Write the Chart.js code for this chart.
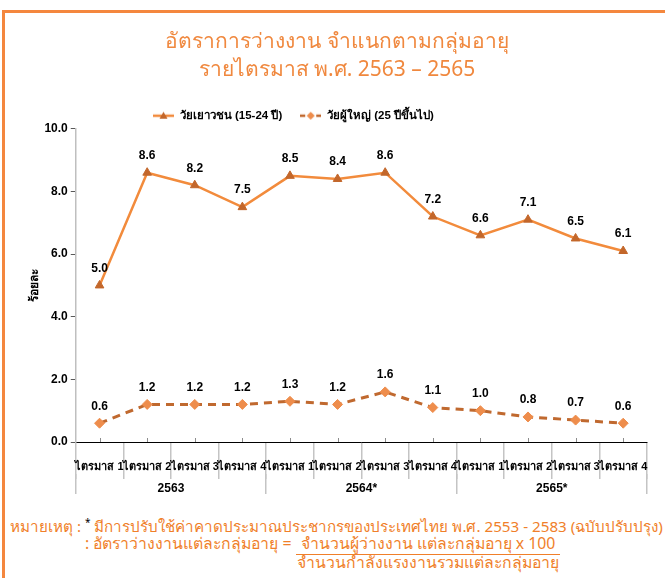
<!DOCTYPE html>
<html lang="th">
<head>
<meta charset="UTF-8">
<title>อัตราการว่างงาน จำแนกตามกลุ่มอายุ</title>
<script src="https://cdn.jsdelivr.net/npm/chart.js"></script>
<style>
    body {
        margin: 0;
        width: 665px;
        height: 578px;
        overflow: hidden;
        position: relative;
        background: #fff;
        font-family: Tahoma, "Noto Sans", sans-serif;
    }
    .frame {
        position: absolute;
        left: 2px;
        top: 10px;
        width: 700px;
        height: 600px;
        border-top: 3px solid #F4873E;
        border-left: 3px solid #F4873E;
    }
    #wrap {
        position: absolute;
        left: 5px;
        top: 13px;
        width: 660px;
        height: 490px;
    }
    .note {
        position: absolute;
        color: #F07F2A;
        font-size: 15.2px;
        white-space: nowrap;
        line-height: 19px;
    }
    .note sup { color: #000; font-size: 10px; }
    .frac {
        display: inline-block;
        vertical-align: top;
        text-align: center;
    }
    .frac .num { border-bottom: 1.5px solid #F07F2A; padding: 0 5px; }
</style>
</head>
<body>
<div class="frame"></div>
<div id="wrap"><canvas id="chart" width="660" height="490"></canvas></div>

<div class="note" style="left:10px; top:513px;">หมายเหตุ : <sup>*</sup> มีการปรับใช้ค่าคาดประมาณประชากรของประเทศไทย พ.ศ. 2553 - 2583 (ฉบับปรับปรุง)</div>
<div class="note" style="left:85px; top:534px; font-size:15.8px;">: อัตราว่างงานแต่ละกลุ่มอายุ = <span class="frac"><span class="num">จำนวนผู้ว่างงาน แต่ละกลุ่มอายุ x 100</span><br>จำนวนกำลังแรงงานรวมแต่ละกลุ่มอายุ</span></div>

<script>
    // ข้อมูล
    const quarters = ['ไตรมาส 1', 'ไตรมาส 2', 'ไตรมาส 3', 'ไตรมาส 4',
                      'ไตรมาส 1', 'ไตรมาส 2', 'ไตรมาส 3', 'ไตรมาส 4',
                      'ไตรมาส 1', 'ไตรมาส 2', 'ไตรมาส 3', 'ไตรมาส 4'];
    const years = ['2563', '2564*', '2565*'];
    const youth = [5.0, 8.6, 8.2, 7.5, 8.5, 8.4, 8.6, 7.2, 6.6, 7.1, 6.5, 6.1];
    const adult = [0.6, 1.2, 1.2, 1.2, 1.3, 1.2, 1.6, 1.1, 1.0, 0.8, 0.7, 0.6];
    const seriesNames = ['วัยเยาวชน (15-24 ปี)', 'วัยผู้ใหญ่ (25 ปีขึ้นไป)'];

    const boldFont = '"Liberation Sans Narrow", "Arial Narrow", Tahoma, sans-serif';

    // ไอคอนในคำอธิบาย: เส้น + เครื่องหมาย
    function legendIcon(lineColor, markColor, shape, dash) {
        const c = document.createElement('canvas');
        c.width = 21;
        c.height = 12;
        const g = c.getContext('2d');
        g.strokeStyle = lineColor;
        g.lineWidth = 2.5;
        g.setLineDash(dash);
        g.beginPath();
        g.moveTo(0, 6);
        g.lineTo(21, 6);
        g.stroke();
        g.fillStyle = markColor;
        g.beginPath();
        if (shape === 'triangle') {
            g.moveTo(10.5, 2); g.lineTo(14.5, 9); g.lineTo(6.5, 9);
        } else {
            g.moveTo(10.5, 2); g.lineTo(14.5, 6); g.lineTo(10.5, 10); g.lineTo(6.5, 6);
        }
        g.closePath();
        g.fill();
        return c;
    }

    const icons = [
        legendIcon('#F28B3C', '#C3672B', 'triangle', []),
        legendIcon('#C0692F', '#EE8D4C', 'diamond', [5, 3])
    ];

    // ตัวเลขเหนือจุด
    const valueLabels = {
        id: 'valueLabels',
        afterDatasetsDraw(chart) {
            const ctx = chart.ctx;
            ctx.save();
            ctx.font = 'bold 12px ' + boldFont;
            ctx.fillStyle = '#000';
            ctx.textAlign = 'center';
            ctx.textBaseline = 'middle';
            chart.data.datasets.forEach((ds, i) => {
                chart.getDatasetMeta(i).data.forEach((pt, j) => {
                    ctx.fillText(ds.data[j].toFixed(1), pt.x, pt.y - 17);
                });
            });
            ctx.restore();
        }
    };

    // ขีดสั้นกลางแต่ละไตรมาสบนแกน x
    const centerTicks = {
        id: 'centerTicks',
        beforeDatasetsDraw(chart) {
            const ctx = chart.ctx;
            const x = chart.scales.x;
            ctx.save();
            ctx.strokeStyle = '#8C8C8C';
            ctx.lineWidth = 1;
            ctx.beginPath();
            quarters.forEach((q, i) => {
                const px = Math.round(x.getPixelForValue(i)) + 0.5;
                ctx.moveTo(px, x.top - 4);
                ctx.lineTo(px, x.top);
            });
            ctx.stroke();
            ctx.restore();
        }
    };

    // ย้ายคำอธิบายไปทางซ้าย
    const legendShift = {
        id: 'legendShift',
        afterLayout(chart) {
            const lg = chart.legend;
            const w = lg.right - lg.left;
            lg.left = 130;
            lg.right = lg.left + w;
            lg.top = 79;
        }
    };

    new Chart(document.getElementById('chart'), {
        type: 'line',
        data: {
            labels: quarters,
            datasets: [{
                label: seriesNames[0],
                data: youth,
                borderColor: '#F28B3C',
                borderWidth: 2.5,
                pointStyle: 'triangle',
                pointRadius: 5,
                pointBackgroundColor: '#C3672B',
                pointBorderColor: '#C3672B',
                pointBorderWidth: 1,
                tension: 0,
                fill: false
            }, {
                label: seriesNames[1],
                data: adult,
                borderColor: '#C0692F',
                borderWidth: 3,
                borderDash: [8, 6],
                pointStyle: 'rectRot',
                pointRadius: 5,
                pointBackgroundColor: '#EE8D4C',
                pointBorderColor: '#EE8D4C',
                pointBorderWidth: 1,
                tension: 0,
                fill: false
            }]
        },
        options: {
            responsive: false,
            animation: false,
            layout: {
                padding: { left: 22, right: 18, top: 0, bottom: 8 }
            },
            scales: {
                x: {
                    type: 'category',
                    offset: true,
                    afterFit: (s) => { s.height = 32; },
                    grid: {
                        offset: true,
                        drawOnChartArea: false,
                        tickLength: 37,
                        lineWidth: 1.5,
                        color: '#C4C4C4'
                    },
                    border: { color: '#000', width: 1 },
                    ticks: {
                        padding: -19,
                        autoSkip: false,
                        maxRotation: 0,
                        color: '#000',
                        font: { family: boldFont, size: 11, weight: 'bold' }
                    }
                },
                x2: {
                    type: 'category',
                    position: 'bottom',
                    labels: years,
                    offset: true,
                    afterFit: (s) => { s.height = 21; },
                    grid: {
                        offset: true,
                        drawOnChartArea: false,
                        tickLength: 20,
                        lineWidth: 1.5,
                        color: '#C4C4C4'
                    },
                    border: { display: false },
                    ticks: {
                        padding: -13,
                        autoSkip: false,
                        maxRotation: 0,
                        color: '#000',
                        font: { family: boldFont, size: 12, weight: 'bold' }
                    }
                },
                y: {
                    min: 0,
                    max: 10,
                    ticks: {
                        stepSize: 2,
                        padding: 3,
                        color: '#000',
                        font: { family: boldFont, size: 12, weight: 'bold' },
                        callback: (v) => v.toFixed(1)
                    },
                    grid: {
                        drawOnChartArea: false,
                        tickLength: 5,
                        color: '#595959'
                    },
                    border: { color: '#BFBFBF', width: 1.5 },
                    title: {
                        display: true,
                        text: 'ร้อยละ',
                        color: '#000',
                        padding: 0,
                        font: { family: boldFont, size: 12, weight: 'bold' }
                    }
                }
            },
            plugins: {
                title: {
                    display: true,
                    text: ['อัตราการว่างงาน จำแนกตามกลุ่มอายุ', 'รายไตรมาส พ.ศ. 2563 – 2565'],
                    color: '#F0883E',
                    font: { family: 'Tahoma, "Noto Sans", sans-serif', size: 21, weight: 'normal', lineHeight: 1.33 },
                    padding: { top: 15, bottom: 15 }
                },
                legend: {
                    display: true,
                    align: 'start',
                    maxHeight: 30,
                    labels: {
                        usePointStyle: true,
                        pointStyleWidth: 21,
                        padding: 18,
                        color: '#000',
                        font: { family: boldFont, size: 11.5, weight: 'bold' },
                        generateLabels: (chart) => chart.data.datasets.map((ds, i) => ({
                            text: ds.label,
                            pointStyle: icons[i],
                            fontColor: '#000',
                            datasetIndex: i,
                            hidden: false
                        }))
                    }
                },
                tooltip: { enabled: false }
            }
        },
        plugins: [centerTicks, valueLabels, legendShift]
    });
</script>
</body>
</html>
